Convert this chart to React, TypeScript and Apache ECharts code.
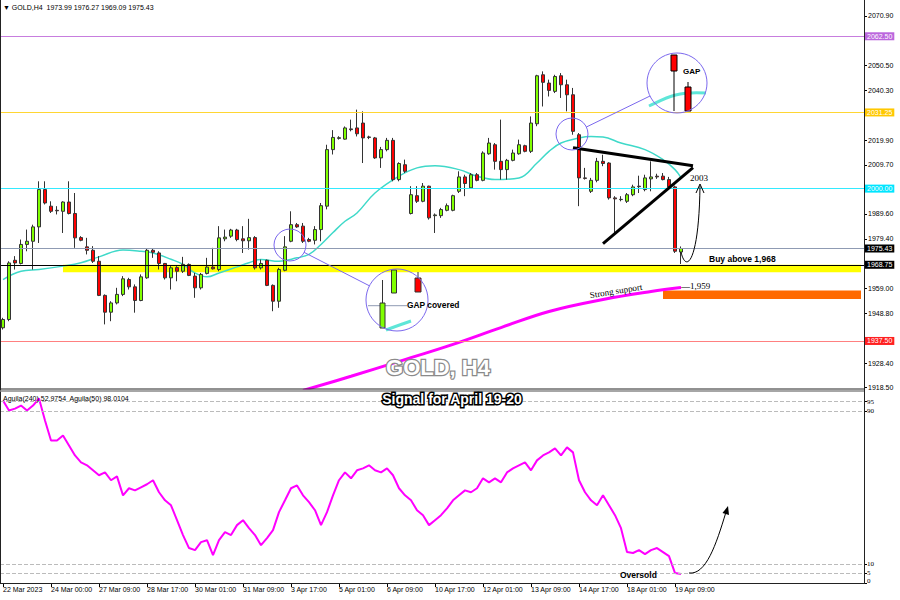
import { useEffect, useRef } from 'react';
import * as echarts from 'echarts';

// ---------- DATA ----------
const opens = [
  1942.9, 1946.3, 1970.6, 1969.3, 1977.1, 1978.4, 1984.3, 1999.6, 1992.8, 1991.1,
  1990.7, 1994.5, 1989.8, 1979.9, 1976.1, 1974.7, 1970.2, 1956.2, 1949.3, 1953.1,
  1956.6, 1962.7, 1959.7, 1954.1, 1963.4, 1974.7, 1973.6, 1969.3, 1963.4, 1967.6,
  1966.1, 1968.9, 1964.1, 1959.3, 1965.2, 1967.8, 1966.8, 1979.4, 1980.5, 1983.0,
  1979.4, 1978.6, 1979.9, 1967.5, 1970.6, 1960.3, 1953.8, 1966.5, 1978.4, 1985.2,
  1984.6, 1979.1, 1978.8, 1983.2, 1992.8, 2016.0, 2020.6, 2020.3, 2024.5, 2024.9,
  2026.9, 2021.2, 2020.8, 2012.6, 2016.0, 2019.8, 2003.7, 2009.8, 1989.8, 1997.1,
  1994.8, 2001.0, 1988.9, 1988.9, 1991.1, 1991.1, 1998.9, 2004.8, 2000.3, 2005.7,
  2003.4, 2014.3, 2018.0, 2011.2, 2007.8, 2011.6, 2014.3, 2017.6, 2015.3, 2026.6,
  2046.7, 2043.3, 2039.9, 2046.3, 2042.6, 2038.5, 2022.1, 2004.4, 1998.9, 2003.4,
  2011.2, 2010.5, 1996.2, 1995.5, 1994.8, 1997.5, 2001.0, 1999.6, 2004.0, 2005.1,
  2005.1, 2003.7, 2000.7, 1973.99,
];
const closes = [
  1946.3, 1969.5, 1969.5, 1977.1, 1978.4, 1984.3, 1999.6, 1994.1, 1990.7, 1990.9,
  1994.5, 1989.8, 1979.8, 1978.8, 1974.7, 1970.2, 1956.2, 1949.3, 1953.1, 1956.6,
  1963.0, 1959.7, 1954.1, 1963.8, 1974.7, 1973.9, 1969.3, 1963.4, 1967.5, 1966.1,
  1968.9, 1964.4, 1959.3, 1964.8, 1967.8, 1967.1, 1979.8, 1980.1, 1983.0, 1979.1,
  1978.6, 1979.9, 1967.5, 1969.3, 1960.3, 1953.8, 1966.8, 1976.1, 1985.2, 1984.3,
  1978.4, 1978.4, 1983.2, 1993.0, 2016.0, 2021.0, 2020.9, 2024.9, 2024.2, 2022.5,
  2020.8, 2021.0, 2012.6, 2016.0, 2019.8, 2003.7, 2010.3, 2007.1, 1997.5, 1994.8,
  2001.0, 1988.0, 1989.2, 1991.4, 1993.0, 1997.1, 2004.8, 2002.1, 2005.7, 2003.4,
  2014.6, 2018.7, 2011.2, 2007.8, 2011.6, 2014.6, 2018.0, 2015.3, 2026.9, 2046.3,
  2043.6, 2040.3, 2046.0, 2042.6, 2038.5, 2023.5, 2004.4, 2004.2, 2003.4, 2011.2,
  2010.3, 1996.2, 1995.8, 1995.6, 1997.5, 2000.7, 2000.8, 2004.4, 2004.8, 2004.8,
  2003.7, 2000.7, 1974.3, 1975.43,
];
const lows = [
  1942.2, 1945.6, 1966.8, 1968.9, 1974.3, 1966.8, 1977.7, 1993.5, 1990.0, 1989.4,
  1981.8, 1989.4, 1975.7, 1978.4, 1973.0, 1969.5, 1955.9, 1944.3, 1945.6, 1952.5,
  1955.9, 1958.6, 1949.1, 1953.8, 1963.0, 1971.6, 1966.8, 1962.7, 1958.6, 1962.0,
  1965.4, 1964.1, 1955.2, 1958.6, 1964.8, 1966.8, 1966.1, 1978.4, 1979.8, 1978.4,
  1973.6, 1975.0, 1966.8, 1966.8, 1960.0, 1949.7, 1951.1, 1966.1, 1978.0, 1983.9,
  1977.7, 1978.0, 1977.1, 1978.4, 1991.5, 2014.0, 2020.1, 2020.1, 2023.5, 2021.4,
  2010.5, 2020.3, 2012.2, 2008.5, 2015.3, 2003.0, 2003.0, 2006.4, 1989.4, 1994.1,
  1994.4, 1987.3, 1981.8, 1988.0, 1990.7, 1990.7, 1998.2, 1996.9, 1999.9, 2003.0,
  2003.0, 2013.9, 2007.8, 2003.7, 2003.7, 2011.2, 2013.9, 2014.9, 2014.6, 2025.6,
  2033.7, 2037.8, 2039.2, 2037.2, 2031.7, 2022.1, 1992.8, 2003.7, 1998.2, 2002.6,
  2009.2, 1995.5, 1981.8, 1994.8, 1994.1, 1996.9, 1998.2, 1998.9, 1998.9, 2004.0,
  2003.4, 2000.3, 1973.6, 1969.09,
];
const highs = [
  1947.0, 1970.2, 1972.3, 1979.1, 1983.2, 1985.2, 2003.0, 2003.0, 1994.8, 1992.8,
  1994.8, 2003.0, 1998.2, 1980.5, 1979.8, 1976.4, 1972.3, 1956.6, 1953.8, 1959.3,
  1964.1, 1963.4, 1960.7, 1964.8, 1975.3, 1975.3, 1974.3, 1969.5, 1968.2, 1968.2,
  1972.0, 1969.3, 1965.4, 1965.4, 1971.6, 1975.7, 1984.6, 1983.2, 1983.5, 1983.5,
  1984.6, 1987.6, 1980.5, 1970.9, 1970.9, 1960.7, 1967.5, 1980.5, 1990.7, 1985.9,
  1985.9, 1979.8, 1984.6, 1994.1, 2018.0, 2024.0, 2021.5, 2025.5, 2028.3, 2032.4,
  2031.7, 2021.7, 2021.2, 2017.1, 2020.8, 2020.8, 2010.8, 2011.9, 2001.0, 2001.0,
  2002.3, 2001.2, 1989.8, 1992.1, 1993.9, 1997.5, 2007.1, 2005.7, 2006.4, 2006.4,
  2015.3, 2020.8, 2018.7, 2028.3, 2012.2, 2016.0, 2020.1, 2018.0, 2029.6, 2046.7,
  2048.1, 2044.7, 2046.7, 2047.4, 2044.7, 2041.3, 2022.8, 2008.5, 2004.4, 2012.6,
  2013.9, 2010.8, 1996.9, 1996.9, 1998.2, 2001.6, 2005.3, 2005.7, 2011.2, 2006.1,
  2006.4, 2004.8, 2001.2, 1976.27,
];

// moving averages: [bar index, price]
const maCyan = [
  [0, 1962.7], [3, 1966.1], [6, 1966.8], [10, 1968.2], [13, 1969.6], [16, 1972.0],
  [20, 1974.8], [23, 1974.3], [25, 1973.6], [28, 1971.0], [30, 1968.9], [32, 1965.4],
  [34, 1963.8], [36, 1965.4], [39, 1967.9], [41, 1969.6], [43, 1970.9], [46, 1970.2],
  [49, 1971.6], [51, 1973.0], [53, 1977.1], [55, 1982.0], [57, 1986.6], [59, 1990.0],
  [62, 1998.2], [66, 2005.1], [69, 2008.5], [72, 2009.4], [76, 2007.8], [79, 2005.1],
  [82, 2003.7], [86, 2004.4], [89, 2010.5], [91, 2015.3], [93, 2018.7], [96, 2020.8],
  [98, 2021.4], [100, 2021.2], [103, 2018.7], [107, 2016.0], [110, 2011.9], [112, 2007.8],
  [113, 2004.5],
];
const maMagenta = [
  [50, 1917.2], [58, 1923.0], [66, 1929.1], [75, 1936.1], [83, 1943.0], [91, 1949.6],
  [100, 1954.5], [108, 1957.8], [113, 1959.4],
];

const aguila240 = [
  95.5, 90.3, 91.3, 92.9, 90.3, 92.9, 96.6, 85.1, 74.6, 74.6,
  77.2, 72.0, 66.8, 63.2, 61.6, 59.0, 56.4, 57.9, 53.8, 55.8,
  45.9, 49.6, 48.5, 50.1, 51.7, 53.8, 47.5, 43.3, 40.7, 32.9,
  25.1, 18.3, 17.2, 21.4, 22.4, 14.6, 22.4, 26.6, 25.1, 30.3,
  32.9, 28.7, 25.1, 19.8, 23.5, 27.7, 37.1, 43.3, 49.6, 51.1,
  45.9, 42.3, 38.1, 30.3, 37.1, 45.9, 53.8, 57.9, 54.8, 59.0,
  60.0, 61.6, 59.0, 57.9, 60.0, 56.4, 49.6, 45.9, 43.3, 38.1,
  35.5, 30.3, 32.9, 35.5, 39.1, 43.3, 45.9, 48.5, 47.5, 49.6,
  54.8, 52.7, 54.8, 52.7, 57.9, 60.0, 61.6, 63.2, 59.0, 64.2,
  66.8, 68.4, 70.5, 66.8, 71.0, 68.4, 53.8, 47.5, 43.3, 40.7,
  45.9, 40.7, 35.5, 28.7, 16.2, 15.7, 17.2, 15.1, 17.2, 18.3,
  16.2, 14.1, 5.2, 4.7,
];

const levelValues = [2062.5, 2031.25, 2000.0, 1968.75, 1937.5];
const levelNames = ['[+2/8]P', '[+1/8]P', '[0/8]P', '[7/8]P', '[6/8]P'];
const bidPrice = 1975.43;
const yellowZone = [1965.7, 1968.75];
const orangeZone = [1954.7, 1958.2];
const yellowStartBar = 10;
const orangeStartBar = 110;
const triangleUpper = [[95, 2016.8], [115, 2009.4]];
const triangleLower = [[100, 1977.4], [115, 2008.6]];

const priceTicks = [2070.9, 2050.5, 2040.3, 2019.9, 2009.7, 1989.6, 1979.4, 1959.0, 1948.8, 1928.4, 1918.5];
const oscTicks = [0, 5, 10, 90, 95, 100];
const oscGuides = [95, 90, 10, 5];
const xTickLabels = [
  '22 Mar 2023', '24 Mar 00:00', '27 Mar 09:00', '28 Mar 17:00', '30 Mar 01:00',
  '31 Mar 09:00', '3 Apr 17:00', '5 Apr 01:00', '6 Apr 09:00', '10 Apr 17:00',
  '12 Apr 01:00', '13 Apr 09:00', '14 Apr 17:00', '18 Apr 01:00', '19 Apr 09:00',
];
const headerText = '▼ GOLD,H4  1973.99 1976.27 1969.09 1975.43';
const oscHeader = 'Aguila(240) 52.9754  Aguila(50) 98.0104';

const SLOT_COUNT = 144;
const LABEL_STEP = 8;
const LEVEL_LABEL_BAR = 77;

export default function App() {
  const ref = useRef<HTMLDivElement>(null);

  useEffect(() => {
    if (!ref.current) return;
    const chart = echarts.init(ref.current, null, { renderer: 'svg' });
    const sans = '"Liberation Sans", Arial, sans-serif';
    const serif = '"Liberation Serif", "Times New Roman", serif';
    const categories = Array.from({ length: SLOT_COUNT }, (_, i) => String(i));
    const candles = opens.map((o, i) => [o, closes[i], lows[i], highs[i]]);
    const boxColors = ['#bb66dd', '#ffc800', '#00e5ff', '#000000', '#ff2020'];
    const lineColors = ['#c77dde', '#ffd633', '#33eaff', '#000000', '#ff8080'];
    const nameColors = ['#b060d0', '#f0b000', '#22d4f0', '#000000', '#e03030'];
    const showTick = (i: number) => i % LABEL_STEP === 0 && i / LABEL_STEP < xTickLabels.length;

    const boxLabel = (txt: string, bg: string) => ({
      show: true,
      position: 'end',
      formatter: txt,
      backgroundColor: bg,
      color: '#fff',
      fontSize: 7,
      fontFamily: sans,
      padding: [1, 2, 0, 2],
      distance: 1,
    });

    const purple = '#7b68ee';
    const g: any[] = [];
    const Z = 100;
    const line = (x1: number, y1: number, x2: number, y2: number, stroke: string, w = 1) =>
      g.push({ type: 'line', z: Z, silent: true, shape: { x1, y1, x2, y2 }, style: { stroke, lineWidth: w } });
    const text = (x: number, y: number, t: string, font: string, extra: any = {}) =>
      g.push({
        type: 'text', z: Z + 2, silent: true, x, y, rotation: extra.rotation || 0,
        style: { text: t, font, fill: extra.fill || '#000', textAlign: extra.align || 'left', textVerticalAlign: 'middle', stroke: extra.stroke, lineWidth: extra.lineWidth || 0 },
      });

    // frames
    line(0.5, 0, 0.5, 584, '#222');
    line(864.5, 0, 864.5, 584, '#222');
    line(0, 389, 864, 389, '#222');
    line(0, 391, 864, 391, '#888', 1.5);
    line(0, 583.5, 864.5, 583.5, '#222');

    // header texts
    text(3, 7, headerText, `7px ${sans}`);
    text(3, 398, oscHeader, `7px ${sans}`);

    // watermark titles
    text(438, 367, 'GOLD, H4', `bold 22px ${sans}`, { fill: '#ffffff', stroke: '#8a8a8a', lineWidth: 2.5, align: 'center' });
    text(452, 399, 'Signal for April 19-20', `bold 14px ${sans}`, { fill: '#ffffff', stroke: '#000000', lineWidth: 3, align: 'center' });

    // annotations
    text(709, 259, 'Buy above 1,968', `bold 8.5px ${sans}`);
    text(616, 291, 'Strong support', `9px ${serif}`, { rotation: 0.16, align: 'center' });
    text(681, 286, '—1,959', `9px ${serif}`);
    text(690, 178, '2003', `9px ${serif}`);
    text(620, 575, 'Oversold', `bold 8.5px ${sans}`);

    // curved arrow (main)
    g.push({ type: 'bezierCurve', z: Z, silent: true, shape: { x1: 681, y1: 252, cpx1: 686, cpy1: 274, cpx2: 699, cpy2: 262, x2: 700, y2: 186 }, style: { stroke: '#000', fill: 'none', lineWidth: 1 } });
    g.push({ type: 'polyline', z: Z, silent: true, shape: { points: [[696, 193], [700, 184], [704, 193]] }, style: { stroke: '#000', fill: 'none', lineWidth: 1 } });
    // curved arrow (oscillator)
    g.push({ type: 'bezierCurve', z: Z, silent: true, shape: { x1: 689, y1: 573, cpx1: 706, cpy1: 575, cpx2: 716, cpy2: 545, x2: 726, y2: 512 }, style: { stroke: '#000', fill: 'none', lineWidth: 1 } });
    g.push({ type: 'polygon', z: Z, silent: true, shape: { points: [[728, 506], [729, 515], [722.5, 513]] }, style: { fill: '#000' } });

    // magnifier 1 (GAP)
    g.push({ type: 'circle', z: Z, silent: true, shape: { cx: 572, cy: 134, r: 16 }, style: { fill: 'none', stroke: purple, lineWidth: 1 } });
    line(586.4, 127, 650, 96, purple);
    g.push({ type: 'bezierCurve', z: Z, silent: true, shape: { x1: 649, y1: 106, cpx1: 666, cpy1: 98, cpx2: 676, cpy2: 91, x2: 706, y2: 93 }, style: { stroke: '#5ee6d8', fill: 'none', lineWidth: 3 } });
    line(674, 70, 674, 111, '#000');
    g.push({ type: 'rect', z: Z + 1, silent: true, shape: { x: 671, y: 55, width: 6, height: 16 }, style: { fill: '#ff0000', stroke: '#000', lineWidth: 1 } });
    line(688, 82, 688, 88, '#000');
    g.push({ type: 'rect', z: Z + 1, silent: true, shape: { x: 685, y: 87, width: 6, height: 24 }, style: { fill: '#ff0000', stroke: '#000', lineWidth: 1 } });
    g.push({ type: 'circle', z: Z + 1, silent: true, shape: { cx: 677, cy: 83, r: 30 }, style: { fill: 'none', stroke: purple, lineWidth: 1 } });
    text(683, 71, 'GAP', `bold 8px ${sans}`);

    // magnifier 2 (GAP covered)
    g.push({ type: 'circle', z: Z, silent: true, shape: { cx: 290, cy: 245, r: 16 }, style: { fill: 'none', stroke: purple, lineWidth: 1 } });
    line(304, 252.3, 369.4, 285.8, purple);
    line(368, 305.7, 407, 305.7, '#8f9bb3');
    g.push({ type: 'bezierCurve', z: Z, silent: true, shape: { x1: 386, y1: 330, cpx1: 394, cpy1: 327, cpx2: 402, cpy2: 324, x2: 411, y2: 321 }, style: { stroke: '#5ee6d8', fill: 'none', lineWidth: 3 } });
    line(382.5, 280, 382.5, 303, '#333');
    g.push({ type: 'rect', z: Z + 1, silent: true, shape: { x: 380, y: 303, width: 5, height: 25 }, style: { fill: '#80ff00', stroke: '#333', lineWidth: 1 } });
    g.push({ type: 'rect', z: Z + 1, silent: true, shape: { x: 391.5, y: 270, width: 5, height: 23 }, style: { fill: '#80ff00', stroke: '#333', lineWidth: 1 } });
    line(418, 272, 418, 278, '#333');
    g.push({ type: 'rect', z: Z + 1, silent: true, shape: { x: 415, y: 278, width: 6, height: 14 }, style: { fill: '#ff0000', stroke: '#333', lineWidth: 1 } });
    g.push({ type: 'circle', z: Z + 1, silent: true, shape: { cx: 397, cy: 300, r: 31 }, style: { fill: 'none', stroke: purple, lineWidth: 1 } });
    text(407, 305, 'GAP covered', `bold 8.4px ${sans}`);

    const oscRich = {
      dn: { padding: [7, 0, 0, 0], fontSize: 7, fontFamily: serif, color: '#000' },
      up: { padding: [0, 0, 5, 0], fontSize: 7, fontFamily: serif, color: '#000' },
    };

    const option: any = {
      animation: false,
      backgroundColor: '#ffffff',
      textStyle: { fontFamily: sans },
      grid: [
        { left: -1.5, right: 36, top: 8, height: 380 },
        { left: -1.5, right: 36, top: 392, height: 191 },
      ],
      xAxis: [
        { type: 'category', gridIndex: 0, data: categories, boundaryGap: true, axisLine: { show: false }, axisTick: { show: false }, axisLabel: { show: false }, splitLine: { show: false } },
        {
          type: 'category', gridIndex: 1, data: categories, boundaryGap: true,
          axisLine: { show: false },
          axisTick: { show: true, length: 4, alignWithLabel: true, interval: (i: number) => showTick(i), lineStyle: { color: '#000' } },
          axisLabel: { interval: (i: number) => showTick(i), formatter: (_v: string, i: number) => xTickLabels[i / LABEL_STEP] ?? '', align: 'left', fontSize: 7, color: '#000', margin: 3, fontFamily: sans },
          splitLine: { show: false },
        },
      ],
      yAxis: [
        {
          type: 'value', gridIndex: 0, position: 'right', min: 1918.2, max: 2074.1, scale: true,
          splitLine: { show: false },
          axisLine: { show: true, lineStyle: { color: '#000' } },
          axisTick: { show: true, length: 3, customValues: priceTicks, lineStyle: { color: '#000' } },
          axisLabel: { customValues: priceTicks, formatter: (v: number) => v.toFixed(2), fontSize: 7, color: '#000', margin: 4, fontFamily: sans },
        },
        {
          type: 'value', gridIndex: 1, position: 'right', min: 0, max: 100,
          splitLine: { show: false },
          axisLine: { show: true, lineStyle: { color: '#000' } },
          axisTick: { show: true, length: 3, customValues: oscTicks, lineStyle: { color: '#000' } },
          axisLabel: {
            customValues: oscTicks,
            formatter: (v: number) => (v === 100 ? '{dn|100}' : v === 0 ? '{up|0}' : String(v)),
            rich: oscRich,
            fontSize: 7, color: '#000', margin: 3, fontFamily: serif,
          },
        },
      ],
      series: [
        {
          name: 'zones', type: 'line', xAxisIndex: 0, yAxisIndex: 0, data: [], z: 0, silent: true,
          markArea: {
            silent: true,
            data: [
              [{ xAxis: yellowStartBar, yAxis: yellowZone[1], itemStyle: { color: '#ffff00' } }, { xAxis: SLOT_COUNT - 1, yAxis: yellowZone[0] }],
              [{ xAxis: orangeStartBar, yAxis: orangeZone[1], itemStyle: { color: '#ff6a00' } }, { xAxis: SLOT_COUNT - 1, yAxis: orangeZone[0] }],
            ],
          },
        },
        {
          name: 'levels', type: 'line', xAxisIndex: 0, yAxisIndex: 0, data: [], z: 1, silent: true,
          markLine: {
            silent: true, symbol: ['none', 'none'],
            data: [
              ...levelValues.map((v, i) => ({ yAxis: v, lineStyle: { color: lineColors[i], width: 1, type: 'solid' }, label: boxLabel(v.toFixed(2), boxColors[i]) })),
              { yAxis: bidPrice, lineStyle: { color: '#8f9bb3', width: 1, type: 'solid' }, label: boxLabel(bidPrice.toFixed(2), '#000000') },
            ],
          },
        },
        {
          name: 'MA fast', type: 'line', xAxisIndex: 0, yAxisIndex: 0, data: maCyan, smooth: 0.4, symbol: 'none', z: 2,
          lineStyle: { color: '#3fd9c9', width: 1.5 },
        },
        {
          name: 'MA slow', type: 'line', xAxisIndex: 0, yAxisIndex: 0, data: maMagenta, smooth: 0.4, symbol: 'none', z: 2,
          lineStyle: { color: '#ff00ff', width: 3 },
        },
        {
          name: 'GOLD', type: 'candlestick', xAxisIndex: 0, yAxisIndex: 0, data: candles, barWidth: 4, z: 3,
          itemStyle: { color: '#80ff00', color0: '#ff0000', borderColor: '#333333', borderColor0: '#333333', borderWidth: 1 },
        },
        {
          name: 'triangle', type: 'line', xAxisIndex: 0, yAxisIndex: 0, data: [], z: 5, silent: true,
          markLine: {
            silent: true, symbol: ['none', 'none'], label: { show: false },
            lineStyle: { color: '#000', width: 3, type: 'solid' },
            data: [
              [{ coord: triangleUpper[0] }, { coord: triangleUpper[1] }],
              [{ coord: triangleLower[0] }, { coord: triangleLower[1] }],
            ],
          },
        },
        {
          name: 'level names', type: 'scatter', xAxisIndex: 0, yAxisIndex: 0, z: 6, silent: true,
          symbolSize: 1, itemStyle: { opacity: 0 },
          data: levelValues.map((v, i) => ({
            value: [LEVEL_LABEL_BAR, v],
            label: { show: true, position: 'bottom', distance: 1, formatter: levelNames[i], color: nameColors[i], fontSize: 7, fontFamily: sans },
          })),
        },
        {
          name: 'Aguila(240)', type: 'line', xAxisIndex: 1, yAxisIndex: 1, data: aguila240, symbol: 'none', z: 3,
          lineStyle: { color: '#ff00ff', width: 2 },
          markLine: {
            silent: true, symbol: ['none', 'none'], label: { show: false },
            lineStyle: { color: '#bbbbbb', width: 1, type: 'dashed' },
            data: oscGuides.map((v) => ({ yAxis: v })),
          },
        },
      ],
      graphic: g,
    };
    chart.setOption(option);
    return () => chart.dispose();
  }, []);

  return <div ref={ref} style={{ position: 'fixed', left: 0, top: 0, width: 900, height: 600, background: '#fff' }} />;
}
